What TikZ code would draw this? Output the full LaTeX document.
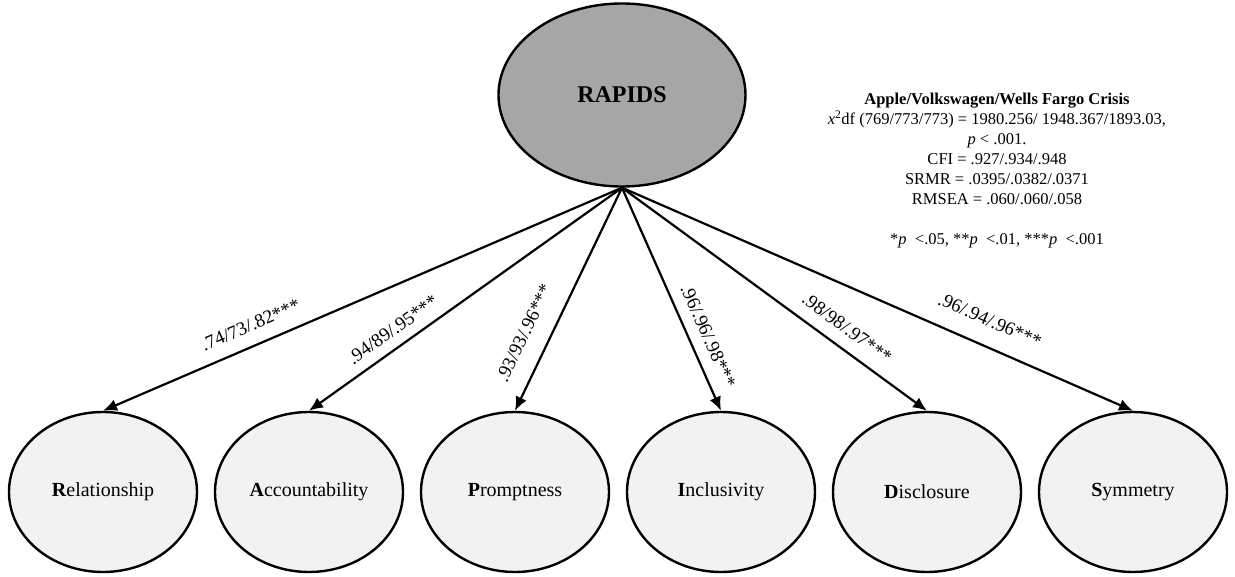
\documentclass[tikz,border=0pt]{standalone}
\usepackage{fontspec}
\setmainfont{Liberation Serif}
\usetikzlibrary{shapes.geometric, arrows.meta}

\definecolor{rapidsgrey}{RGB}{166,166,166}
\definecolor{factorgrey}{RGB}{242,242,242}

\tikzset{
  latent/.style={ellipse, draw, line width=2.4pt, inner sep=0pt},
  factor/.style={latent, fill=factorgrey, minimum width=188pt, minimum height=160pt,
    font=\fontsize{20}{24}\selectfont},
  loading/.style={-{Latex[length=14pt,width=12pt]}, line width=2.2pt},
  coef/.style={sloped, pos=0.7, inner sep=0pt, font=\fontsize{19}{22}\selectfont}
}

\begin{document}
\begin{tikzpicture}[x=1pt, y=1pt]

        \useasboundingbox (0, 0) rectangle (1235, 576);

        \node (rapids) at (622, 481) [latent, fill = rapidsgrey, minimum width = 247pt, minimum height = 183pt,
          font = \fontsize{24}{28}\selectfont\bfseries] {RAPIDS};

        \node (rel) at (103, 84) [factor] {\textbf{R}elationship};
        \node (acc) at (309, 84) [factor] {\textbf{A}ccountability};
        \node (pro) at (515, 84) [factor] {\textbf{P}romptness};
        \node (inc) at (721, 84) [factor] {\textbf{I}nclusivity};
        \node (dis) at (927, 84) [factor] {\textbf{D}isclosure};
        \node (sym) at (1133, 84) [factor] {\textbf{S}ymmetry};

        \draw [loading] (rapids.south) -- (rel.north) node [coef, above = 13pt] {.74/73/.82***};
        \draw [loading] (rapids.south) -- (acc.north) node [coef, above = 10pt] {.94/89/.95***};
        \draw [loading] (rapids.south) -- (pro.north) node [coef, above = 18pt] {.93/93/.96***};
        \draw [loading] (rapids.south) -- (inc.north) node [coef, above = 11pt] {.96/.96/.98***};
        \draw [loading] (rapids.south) -- (dis.north) node [coef, above = 12pt] {.98/98/.97***};
        \draw [loading] (rapids.south) -- (sym.north) node [coef, above = 18pt] {.96/.94/.96***};

        \node (fit) at (997, 483) [anchor = north, align = center, inner sep = 0pt,
          font = \fontsize{16.5}{20}\selectfont] {\textbf{Apple/Volkswagen/Wells Fargo Crisis}\\
          \textit{x}\textsuperscript{2}df (769/773/773) = 1980.256/ 1948.367/1893.03,\\
          \textit{p} < .001.\\
          CFI = .927/.934/.948\\
          SRMR = .0395/.0382/.0371\\
          RMSEA = .060/.060/.058\\[20pt]
          *\textit{p}~ <.05, **\textit{p}~ <.01, ***\textit{p}~ <.001};

    \end{tikzpicture}
\end{document}
